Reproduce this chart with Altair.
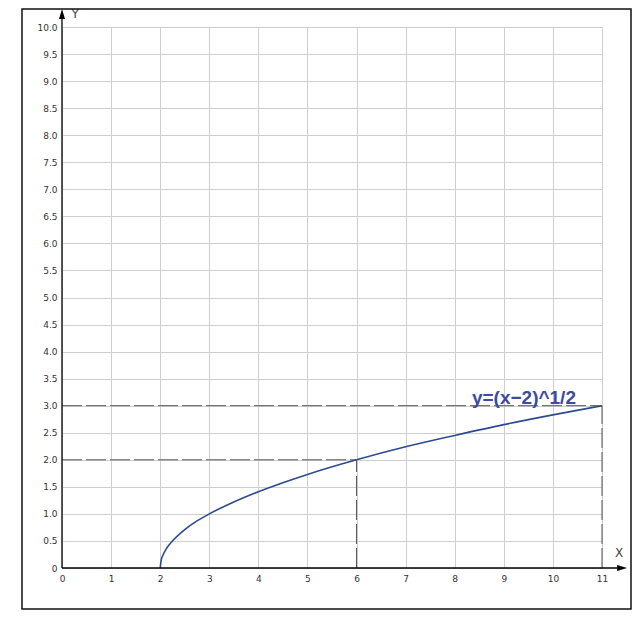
import altair as alt
import pandas as pd

# curve points
curve_x = [2.0, 2.02, 2.06, 2.12, 2.25, 2.5, 2.75, 3.0, 3.5, 4.0, 5.0, 6.0, 7.0, 8.0, 9.0, 10.0, 11.0]
curve_y = [0.0, 0.14, 0.245, 0.35, 0.5, 0.71, 0.87, 1.0, 1.22, 1.41, 1.73, 2.0, 2.24, 2.45, 2.65, 2.83, 3.0]

# dashed guide segments
seg_x = [0, 0, 6, 11]
seg_x2 = [11, 6, 6, 11]
seg_y = [3, 2, 0, 0]
seg_y2 = [3, 2, 2, 3]

x_ticks = list(range(0, 12))
y_ticks = [i * 0.5 for i in range(0, 21)]

formula_label = "y=(x\u22122)^1/2"

W, H = 540, 541
xs = alt.Scale(domain=[0, 11], nice=False, zero=False)
ys = alt.Scale(domain=[0, 10], nice=False, zero=False)

curve_df = pd.DataFrame({"x": curve_x, "y": curve_y})
seg_df = pd.DataFrame({"x": seg_x, "x2": seg_x2, "y": seg_y, "y2": seg_y2})

AX = alt.Axis(values=x_ticks, grid=True, gridColor="#cfcfcf", gridWidth=1,
              domain=False, ticks=False, labelFontSize=9, labelFont="DejaVu Sans",
              labelColor="#333333", labelPadding=6, title=None, labelFlush=False,
              labelOverlap=False)
AY = alt.Axis(values=y_ticks, grid=True, gridColor="#cfcfcf", gridWidth=1,
              domain=False, ticks=False, labelFontSize=9, labelFont="DejaVu Sans",
              labelColor="#333333", labelPadding=5, title=None, labelFlush=False,
              labelOverlap=False,
              labelExpr="datum.value == 0 ? '0' : format(datum.value, '.1f')")


def X(f="x:Q"):
    return alt.X(f, scale=xs, axis=AX)


def Y(f="y:Q"):
    return alt.Y(f, scale=ys, axis=AY)


curve = alt.Chart(curve_df).mark_line(color="#2e4a8e", strokeWidth=1.6, interpolate="monotone").encode(
    x=X(), y=Y()
)

dashes = alt.Chart(seg_df).mark_rule(color="#555555", strokeWidth=1, strokeDash=[20, 4]).encode(
    x=X(), x2="x2:Q", y=Y(), y2="y2:Q"
)

axes_df = pd.DataFrame({"x": [0, 0], "x2": [11.42, 0], "y": [0, 0], "y2": [0, 10.2]})
axes = alt.Chart(axes_df).mark_rule(color="#000000", strokeWidth=1.3).encode(
    x=X(), x2="x2:Q", y=Y(), y2="y2:Q"
)

arrx = alt.Chart(pd.DataFrame({"x": [11.41], "y": [0]})).mark_point(
    shape="M -1 -0.6 L 1 0 L -1 0.6 Z", size=100, filled=True, color="#000000", opacity=1
).encode(x=X(), y=Y())
arry = alt.Chart(pd.DataFrame({"x": [0], "y": [10.24]})).mark_point(
    shape="M -0.6 1 L 0 -1 L 0.6 1 Z", size=100, filled=True, color="#000000", opacity=1
).encode(x=X(), y=Y())

axis_names = alt.Chart(pd.DataFrame({"x": [0.27, 11.35], "y": [10.24, 0.28], "t": ["Y", "X"]})).mark_text(
    font="DejaVu Sans", fontSize=12, color="#444444", align="center", baseline="middle"
).encode(x=X(), y=Y(), text="t:N")

label = alt.Chart(pd.DataFrame({"x": [8.35], "y": [3.03], "t": [formula_label]})).mark_text(
    font="Liberation Sans", fontSize=19, fontWeight="bold", color="#3d4a9e", align="left",
    baseline="alphabetic"
).encode(x=X(), y=Y(), text="t:N")

frame = alt.Chart(pd.DataFrame({"a": [0]})).mark_rect(
    fill=None, fillOpacity=0, stroke="#111111", strokeWidth=1.5
).encode(x=alt.value(-40), x2=alt.value(569), y=alt.value(-18), y2=alt.value(582))

chart = alt.layer(curve, dashes, axes, arrx, arry, axis_names, label, frame).properties(
    width=W, height=H,
    autosize=alt.AutoSizeParams(type="none"),
    padding={"left": 54, "top": 19, "right": 34, "bottom": 43},
    background="#ffffff",
).configure_view(stroke=None)

chart.save("out.html", embed_options={"renderer": "svg", "actions": False})
